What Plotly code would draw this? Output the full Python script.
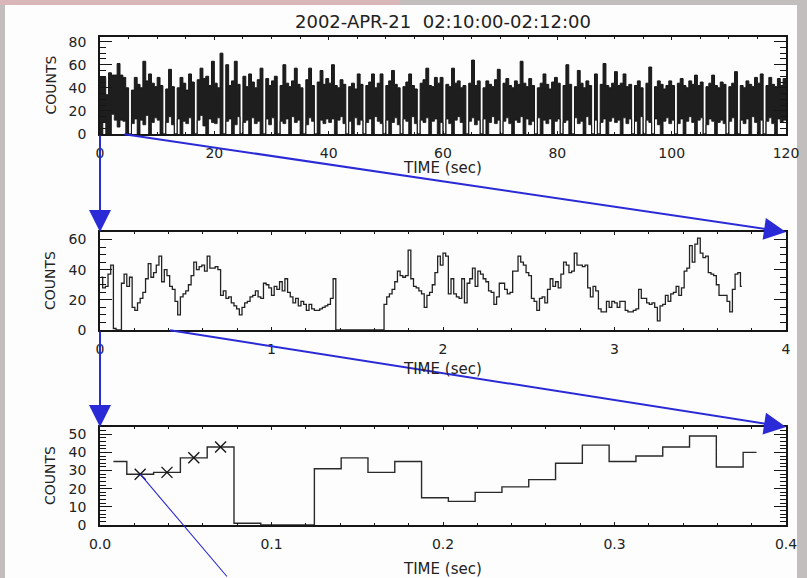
import numpy as np
import plotly.graph_objects as go

W, H = 807, 578

title_text = "2002-APR-21  02:10:00-02:12:00"
x_title = "TIME (sec)"
y_title = "COUNTS"

# ---- 120 s overview: upper / lower envelope of the 1/64 s counts per 0.5 s segment
seg_dt = 0.5
top_hi = [
    49, 49, 34, 53, 51, 51, 61, 51, 49, 40, 0, 38, 49, 43, 40, 63, 46, 52, 44, 41,
    49, 42, 0, 39, 56, 41, 0, 40, 49, 44, 38, 52, 45, 0, 47, 57, 48, 50, 42, 63,
    44, 40, 70, 0, 60, 42, 46, 63, 43, 0, 50, 41, 52, 45, 40, 47, 57, 0, 48, 42,
    46, 50, 0, 42, 60, 44, 41, 46, 57, 43, 40, 0, 47, 57, 42, 0, 45, 55, 43, 48,
    44, 60, 42, 40, 47, 43, 0, 41, 44, 39, 52, 43, 0, 42, 45, 52, 40, 44, 52, 0,
    42, 46, 55, 43, 40, 0, 41, 45, 52, 42, 39, 0, 44, 47, 57, 42, 41, 49, 44, 49,
    0, 43, 41, 57, 44, 46, 40, 42, 0, 44, 64, 42, 46, 0, 40, 46, 43, 41, 47, 56,
    0, 44, 48, 42, 40, 46, 43, 63, 44, 41, 48, 42, 0, 40, 44, 52, 43, 39, 45, 49,
    44, 0, 42, 60, 43, 0, 41, 55, 44, 40, 46, 42, 0, 52, 0, 43, 61, 42, 40, 44,
    54, 42, 44, 52, 41, 43, 0, 42, 46, 40, 0, 44, 58, 0, 41, 46, 43, 39, 42, 46,
    42, 0, 44, 48, 42, 40, 46, 43, 51, 42, 45, 0, 41, 44, 51, 42, 40, 45, 43, 0,
    41, 44, 54, 0, 42, 40, 46, 43, 41, 49, 44, 52, 0, 42, 49, 43, 41, 48, 42, 48,
]
top_lo = [
    0, 10, 0, 0, 17, 12, 6, 12, 11, 0, 0, 9, 13, 0, 12, 8, 16, 0, 10, 14,
    12, 0, 0, 10, 15, 8, 0, 13, 0, 11, 9, 14, 0, 0, 12, 16, 7, 0, 13, 10,
    9, 14, 0, 0, 11, 13, 0, 8, 15, 0, 10, 12, 0, 14, 9, 11, 0, 0, 13, 8,
    14, 0, 0, 11, 9, 13, 0, 15, 10, 12, 0, 0, 8, 14, 11, 0, 0, 12, 9, 13,
    10, 13, 0, 12, 15, 9, 0, 11, 0, 14, 8, 12, 0, 10, 13, 0, 15, 11, 9, 0,
    12, 0, 10, 14, 8, 0, 13, 11, 0, 15, 9, 0, 12, 10, 14, 0, 11, 13, 0, 10,
    0, 13, 9, 0, 12, 15, 10, 0, 0, 11, 14, 8, 12, 0, 13, 0, 10, 15, 9, 12,
    0, 11, 14, 9, 0, 12, 10, 15, 0, 13, 8, 11, 0, 14, 0, 12, 9, 13, 0, 11,
    13, 0, 10, 12, 0, 0, 14, 9, 11, 0, 15, 8, 0, 12, 0, 10, 13, 0, 11, 14,
    10, 12, 0, 14, 9, 13, 0, 11, 0, 15, 0, 12, 10, 0, 13, 8, 0, 11, 14, 9,
    12, 0, 9, 13, 0, 11, 15, 10, 0, 12, 14, 0, 8, 13, 11, 0, 10, 12, 9, 0,
    11, 14, 0, 0, 12, 9, 13, 0, 15, 10, 0, 12, 0, 11, 14, 9, 0, 13, 10, 12,
]

# ---- first 3.75 s at full 1/64 s resolution
bin_dt = 1.0 / 64.0
rate_counts = [
    35, 28, 29, 37, 43, 1, 0, 0, 31, 37, 29, 35, 15, 13, 18, 21, 25, 34, 44, 35, 38, 43, 49, 32, 40,
    36, 29, 27, 19, 10, 22, 24, 26, 30, 36, 45, 40, 42, 43, 39, 49, 41, 41, 42, 40, 23, 26, 21, 22, 18,
    16, 14, 10, 15, 18, 19, 22, 23, 26, 22, 21, 31, 30, 28, 23, 29, 27, 32, 26, 34, 25, 22, 18, 21, 16,
    19, 17, 13, 17, 14, 13, 13, 14, 15, 16, 17, 21, 34, 0, 0, 0, 0, 0, 0, 0, 0, 0, 0, 0, 0,
    0, 0, 0, 0, 0, 0, 17, 22, 24, 27, 32, 39, 36, 35, 36, 53, 34, 29, 28, 26, 24, 15, 23, 25, 30,
    38, 49, 43, 51, 49, 24, 34, 24, 22, 21, 34, 18, 31, 34, 41, 29, 39, 37, 34, 32, 26, 25, 17, 22, 31,
    31, 27, 24, 25, 39, 39, 49, 45, 43, 38, 36, 21, 19, 13, 21, 22, 18, 27, 34, 29, 32, 28, 37, 45, 43,
    38, 39, 51, 43, 43, 42, 43, 28, 22, 29, 26, 14, 12, 12, 19, 15, 19, 18, 15, 19, 19, 13, 12, 12, 13,
    14, 27, 21, 21, 18, 17, 18, 15, 6, 16, 17, 23, 19, 24, 25, 29, 23, 28, 39, 41, 56, 45, 57, 61, 51,
    48, 49, 38, 37, 36, 30, 23, 23, 23, 19, 12, 27, 37, 38, 29,
]
detail_nbins = 25          # bins shown in the 0.4 s panel
marked_bins = [1, 2, 3, 4]  # bins flagged with crosses

# ---- axes
x_ranges = [[0, 120], [0, 4], [0, 0.4]]
x_ticks = [[0, 20, 40, 60, 80, 100, 120], [0, 1, 2, 3, 4], [0.0, 0.1, 0.2, 0.3, 0.4]]
x_ticktext = [["0", "20", "40", "60", "80", "100", "120"], ["0", "1", "2", "3", "4"],
              ["0.0", "0.1", "0.2", "0.3", "0.4"]]
x_minor = [5, 0.2, 0.02]
y_ranges = [[0, 84], [0, 65], [0, 54]]
y_ticks = [[0, 20, 40, 60, 80], [0, 20, 40, 60], [0, 10, 20, 30, 40, 50]]
y_minor = [5, 5, 2]

x_dom = [100 / W, 786 / W]
y_doms = [[1 - 134 / H, 1 - 37 / H], [1 - 330 / H, 1 - 232 / H], [1 - 525 / H, 1 - 427 / H]]

INK = "#161616"
BAND = "#1e1e1e"
BLUE = "#2a2ad6"
FONT = "DejaVu Sans"

fig = go.Figure()

# overview band
edges = np.arange(len(top_hi) + 1) * seg_dt
xs = np.repeat(edges, 2)[1:-1]
fig.add_trace(go.Scatter(x=xs, y=np.repeat(top_lo, 2), mode="lines",
                         line=dict(color=INK, width=0.8), xaxis="x", yaxis="y",
                         showlegend=False, hoverinfo="skip"))
fig.add_trace(go.Scatter(x=xs, y=np.repeat(top_hi, 2), mode="lines", fill="tonexty",
                         fillcolor=BAND, line=dict(color=INK, width=1), xaxis="x", yaxis="y",
                         showlegend=False, hoverinfo="skip"))

# 4 s light curve (histogram steps centred on bins)
t_bins = (np.arange(len(rate_counts)) + 0.5) * bin_dt
fig.add_trace(go.Scatter(x=t_bins, y=rate_counts, mode="lines", line_shape="hvh",
                         line=dict(color="#222222", width=1.3), xaxis="x2", yaxis="y2",
                         showlegend=False))

# 0.4 s light curve
fig.add_trace(go.Scatter(x=t_bins[:detail_nbins], y=rate_counts[:detail_nbins], mode="lines",
                         line_shape="hvh", line=dict(color="#2a2a2a", width=1.4),
                         xaxis="x3", yaxis="y3", showlegend=False))
fig.add_trace(go.Scatter(x=t_bins[marked_bins], y=[rate_counts[i] for i in marked_bins],
                         mode="markers",
                         marker=dict(symbol="x-thin", size=11, line=dict(width=1.4, color=INK)),
                         xaxis="x3", yaxis="y3", showlegend=False))

tickfont = dict(family=FONT, size=14, color="#222222")
for i in range(3):
    sx = "" if i == 0 else str(i + 1)
    fig.layout["xaxis" + sx] = dict(
        domain=x_dom, range=x_ranges[i], anchor="y" + sx,
        tickvals=x_ticks[i], ticktext=x_ticktext[i], ticks="inside", ticklen=3,
        tickcolor=INK, showline=True, linecolor=INK, linewidth=1.6, mirror="allticks",
        showgrid=False, zeroline=False, tickfont=tickfont, ticklabelstandoff=5,
        automargin=False,
        minor=dict(dtick=x_minor[i], ticks="inside", ticklen=2, tickcolor=INK),
    )
    fig.layout["yaxis" + sx] = dict(
        domain=y_doms[i], range=y_ranges[i], anchor="x" + sx,
        tickvals=y_ticks[i], ticks="inside", ticklen=12, tickcolor=INK,
        showline=True, linecolor=INK, linewidth=1.6, mirror="allticks",
        showgrid=False, zeroline=False, tickfont=tickfont, ticklabelstandoff=9,
        automargin=False,
        minor=dict(dtick=y_minor[i], ticks="inside", ticklen=6, tickcolor=INK),
    )


def page_x(v, i):
    r = x_ranges[i]
    return (x_dom[0] + (v - r[0]) / (r[1] - r[0]) * (x_dom[1] - x_dom[0])) * W


def page_y(v, i):
    r, d = y_ranges[i], y_doms[i]
    return (1 - (d[0] + (v - r[0]) / (r[1] - r[0]) * (d[1] - d[0]))) * H


annotations = []

# zoom arrows: bottom of the window in one panel to the top of the next panel
for src in range(2):
    dst = src + 1
    for edge in (x_ranges[dst][0], x_ranges[dst][1]):
        tx, ty = page_x(edge, src), page_y(y_ranges[src][0], src)
        hx, hy = page_x(edge, dst), page_y(y_ranges[dst][1], dst)
        annotations.append(dict(
            x=hx / W, y=1 - hy / H, xref="paper", yref="paper",
            ax=tx - hx, ay=ty - hy, axref="pixel", ayref="pixel",
            text="", showarrow=True, arrowhead=2, arrowsize=2.2, arrowwidth=2,
            arrowcolor=BLUE,
        ))

# pointer leaving the first marked bin
annotations.append(dict(
    x=t_bins[marked_bins[0]], y=rate_counts[marked_bins[0]], xref="x3", yref="y3",
    ax=88, ay=104, axref="pixel", ayref="pixel", text="", showarrow=True,
    arrowhead=0, arrowwidth=1.1, arrowcolor=BLUE,
))

# titles
text_font = dict(family=FONT, color="#222222")
annotations.append(dict(x=443 / W, y=1 - 21 / H, xref="paper", yref="paper", text=title_text,
                        xanchor="center", yanchor="middle", showarrow=False,
                        font=dict(text_font, size=18)))
for yc in [168, 369, 569]:
    annotations.append(dict(x=443 / W, y=1 - yc / H, xref="paper", yref="paper", text=x_title,
                            xanchor="center", yanchor="middle", showarrow=False,
                            font=dict(text_font, size=15)))
for i in range(3):
    yc = (y_doms[i][0] + y_doms[i][1]) / 2
    annotations.append(dict(x=50 / W, y=yc, xref="paper", yref="paper", text=y_title,
                            xanchor="center", yanchor="middle", textangle=-90,
                            showarrow=False, font=dict(text_font, size=14)))

# page frame
shapes = [
    dict(type="rect", xref="paper", yref="paper", x0=5 / W, x1=797 / W, y0=0, y1=1 - 5 / H,
         fillcolor="#fdfdfd", line=dict(width=0), layer="below"),
    dict(type="rect", xref="paper", yref="paper", x0=0, x1=400 / W, y0=1 - 5 / H, y1=1,
         fillcolor="#d9b6b8", line=dict(width=0), layer="below"),
]

fig.update_layout(
    width=W, height=H, margin=dict(l=0, r=0, t=0, b=0, autoexpand=False),
    paper_bgcolor="#c3bebe", plot_bgcolor="#fdfdfd",
    annotations=annotations, shapes=shapes, showlegend=False,
)

fig.write_html("out.html")
